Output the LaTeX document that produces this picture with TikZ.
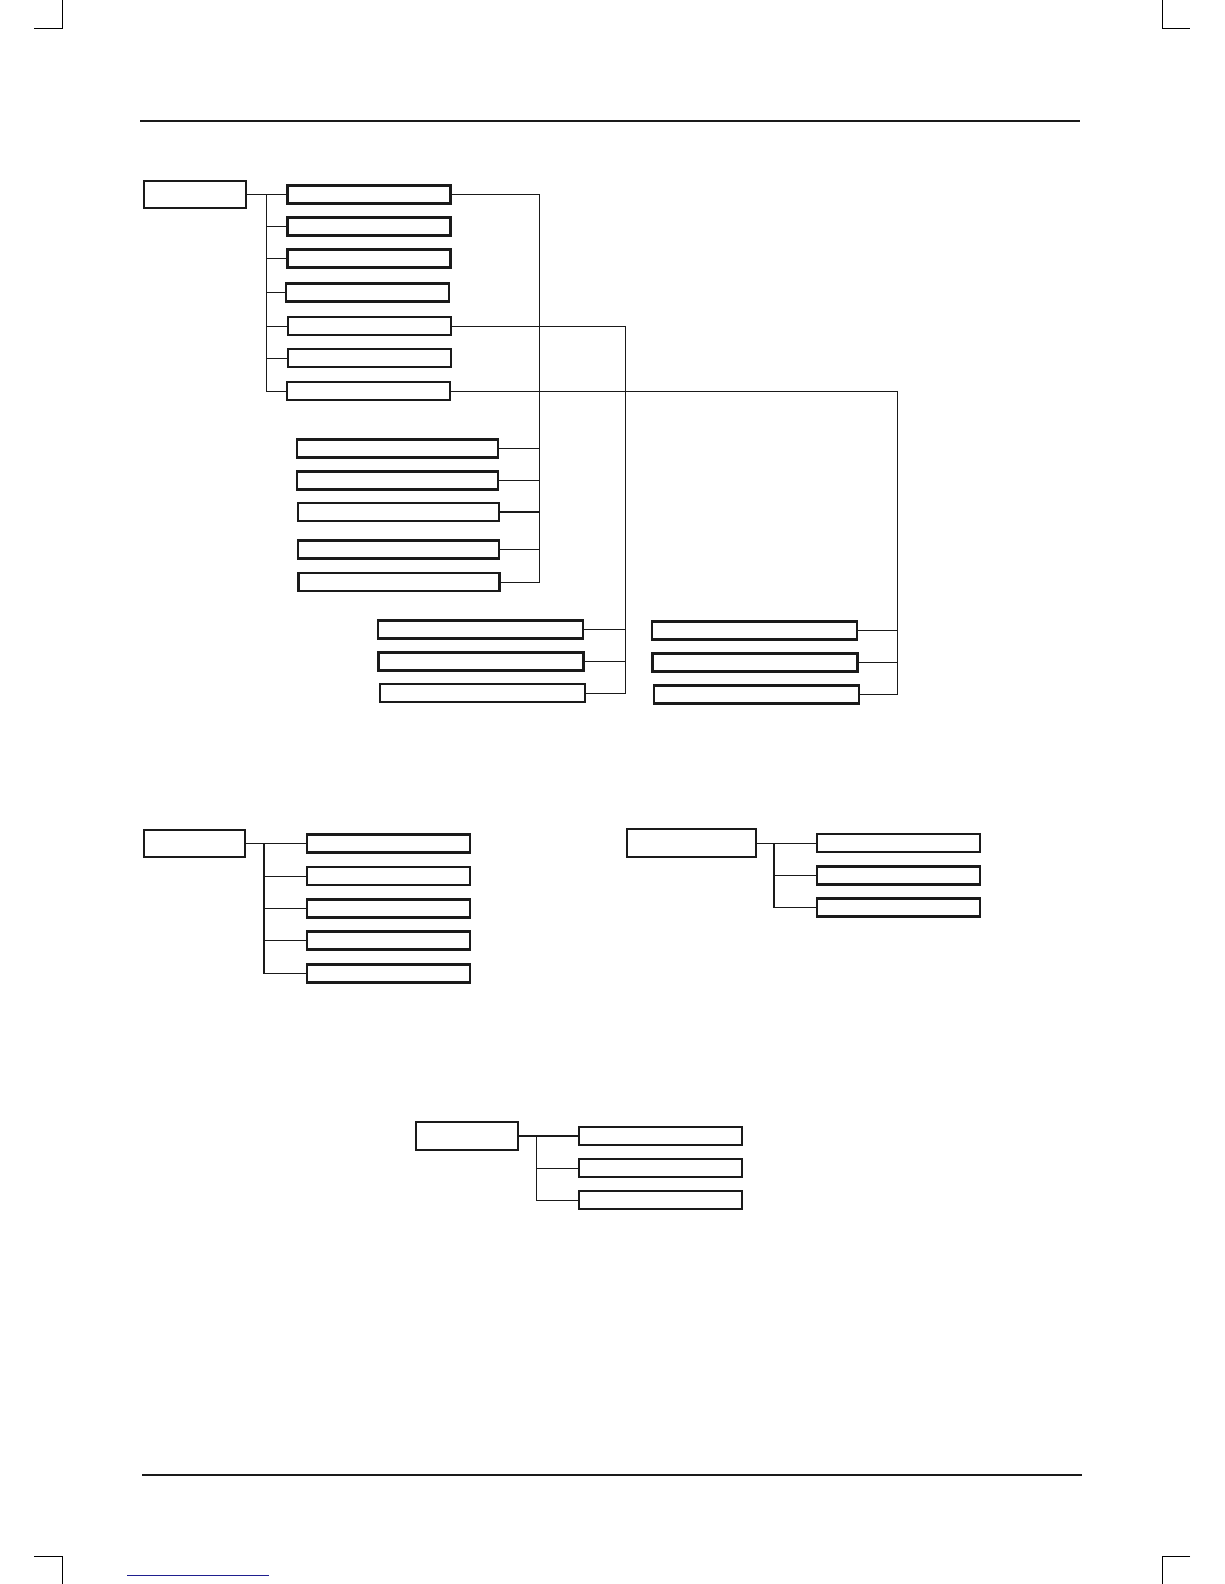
\documentclass[tikz,border=0pt]{standalone}
\usepackage{xcolor}
\usepackage{tikz}
\definecolor{PGInk}{HTML}{1A1A1A}
\definecolor{PGLink}{HTML}{1F1F8F}
\tikzset{
  rootbox/.style={draw=PGInk,line width=1.3pt,inner sep=0pt,minimum width=2.04cm,minimum height=0.53cm},
  leaf/.style={draw=PGInk,line width=1.3pt,inner sep=0pt,minimum width=3.26cm,minimum height=0.36cm},
  wideleaf/.style={leaf,minimum width=4.02cm},
  widerleaf/.style={leaf,minimum width=4.10cm},
  link/.style={draw=PGInk,line width=0.55pt},
  thicklink/.style={draw=PGInk,line width=1pt}
}

\begin{document}
\begin{tikzpicture}[x=0.02cm,y=-0.02cm]
\path[use as bounding box] (0,0) rectangle (1224,1584);
% page furniture
\draw[line width=0.6pt] (62.3,0) -- (62.3,28.3) -- (34.3,28.3);
\draw[line width=0.6pt] (1162.3,0) -- (1162.3,28.3) -- (1190,28.3);
\draw[line width=0.6pt] (34.3,1556.3) -- (62.3,1556.3) -- (62.3,1584);
\draw[line width=0.6pt] (1190,1556.3) -- (1162.3,1556.3) -- (1162.3,1584);
\draw[PGInk,line width=1.2pt] (140,120.7) -- (1080,120.7);
\draw[PGInk,line width=1.2pt] (142,1474.7) -- (1082,1474.7);
\draw[PGLink,line width=0.6pt] (127.3,1575.3) -- (268.7,1575.3);

% first tree
\node[rootbox] (rootA) at (195,194.5) {};
\node[leaf] (c1) at (369,194.5) {};
\node[leaf] (c2) at (369,226.5) {};
\node[leaf] (c3) at (369,258.5) {};
\node[leaf] (c4) at (367.5,292.5) {};
\node[leaf] (c5) at (369.5,326) {};
\node[leaf] (c6) at (369.5,358) {};
\node[leaf] (c7) at (368.5,391) {};
\coordinate (tA) at (266.7,194.5);
\draw[link] (rootA.east) -- (c1.west);
\draw[link] (tA) |- (c7.west);
\draw[thicklink] (tA |- c2.west) -- (c2.west);
\draw[thicklink] (tA |- c3.west) -- (c3.west);
\draw[link] (tA |- c4.west) -- (c4.west);
\draw[link] (tA |- c5.west) -- (c5.west);
\draw[link] (tA |- c6.west) -- (c6.west);

% branch of c1
\node[wideleaf] (a1) at (397.5,448.5) {};
\node[wideleaf] (a2) at (397.5,480.5) {};
\node[wideleaf] (a3) at (398.5,512) {};
\node[wideleaf] (a4) at (398.5,549.5) {};
\node[wideleaf] (a5) at (399,582) {};
\coordinate (kA) at (539.3,194.5);
\draw[thicklink] (c1.east) -- (kA);
\draw[link] (kA) |- (a5.east);
\draw[link] (kA |- a1.east) -- (a1.east);
\draw[link] (kA |- a2.east) -- (a2.east);
\draw[thicklink] (kA |- a3.east) -- (a3.east);
\draw[link] (kA |- a4.east) -- (a4.east);

% branch of c5
\node[widerleaf] (b1) at (480.5,629.5) {};
\node[widerleaf] (b2) at (481,661.5) {};
\node[widerleaf] (b3) at (482.5,693) {};
\coordinate (kB) at (625,326);
\draw[link] (c5.east) -- (kB);
\draw[link] (kB) |- (b3.east);
\draw[link] (kB |- b1.east) -- (b1.east);
\draw[link] (kB |- b2.east) -- (b2.east);

% branch of c7
\node[widerleaf] (d1) at (754.5,630.5) {};
\node[widerleaf] (d2) at (755,662.5) {};
\node[widerleaf] (d3) at (756.5,694.5) {};
\coordinate (kD) at (897.7,391);
\draw[link] (c7.east) -- (kD);
\draw[link] (kD) |- (d3.east);
\draw[link] (kD |- d1.east) -- (d1.east);
\draw[link] (kD |- d2.east) -- (d2.east);

% second tree
\node[rootbox,minimum width=2.02cm,minimum height=0.54cm] (rootB) at (194.5,843.5) {};
\node[leaf] (e1) at (388.5,843.5) {};
\node[leaf] (e2) at (388.5,876) {};
\node[leaf] (e3) at (388.5,908.5) {};
\node[leaf] (e4) at (388.5,940.5) {};
\node[leaf] (e5) at (388.5,973.5) {};
\coordinate (tB) at (263.7,843.5);
\draw[link] (rootB.east) -- (e1.west);
\draw[thicklink] (tB) |- (e5.west);
\draw[link] (tB |- e2.west) -- (e2.west);
\draw[link] (tB |- e3.west) -- (e3.west);
\draw[link] (tB |- e4.west) -- (e4.west);

% third tree
\node[rootbox,minimum width=2.58cm,minimum height=0.55cm] (rootC) at (691.5,843) {};
\node[leaf] (f1) at (898.5,843) {};
\node[leaf] (f2) at (898.5,875.5) {};
\node[leaf] (f3) at (898.5,907.5) {};
\coordinate (tC) at (774,843);
\draw[link] (rootC.east) -- (f1.west);
\draw[thicklink] (tC) |- (f3.west);
\draw[link] (tC |- f2.west) -- (f2.west);

% fourth tree
\node[rootbox,minimum height=0.55cm] (rootD) at (467,1136) {};
\node[leaf] (g1) at (660.5,1136) {};
\node[leaf] (g2) at (660.5,1168) {};
\node[leaf] (g3) at (660.5,1200) {};
\coordinate (tD) at (536.7,1136);
\draw[thicklink] (rootD.east) -- (g1.west);
\draw[link] (tD) |- (g3.west);
\draw[link] (tD |- g2.west) -- (g2.west);
\end{tikzpicture}
\end{document}
